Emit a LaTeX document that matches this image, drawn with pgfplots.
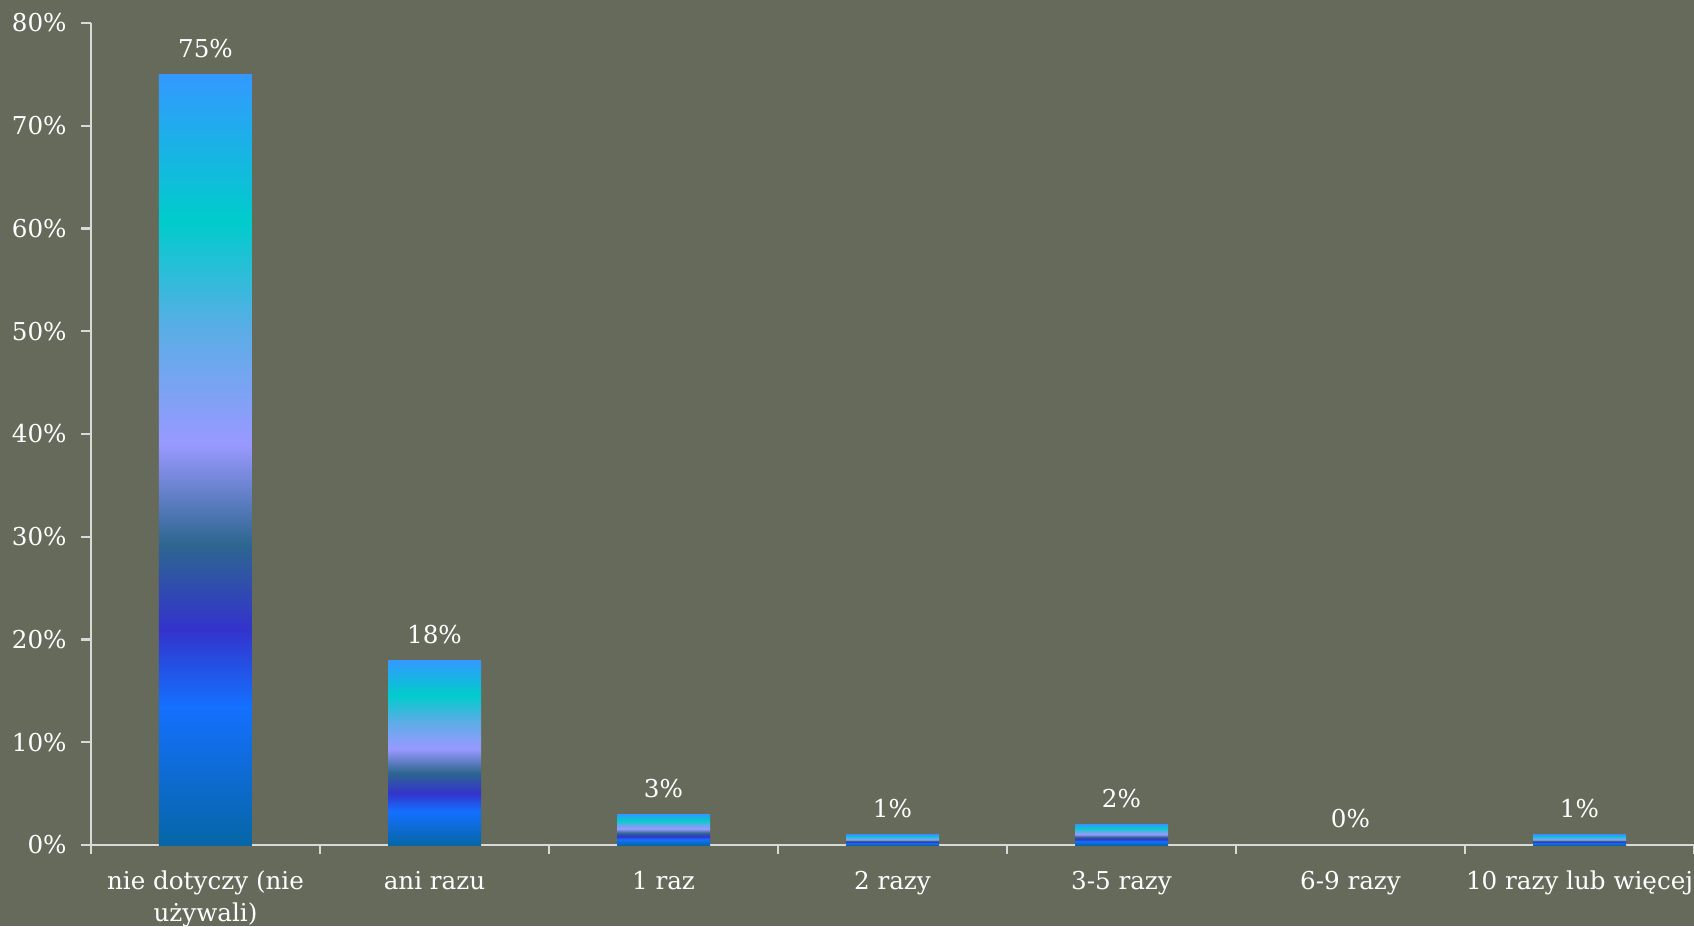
\documentclass[border=0pt]{standalone}
\usepackage{pgfplots}
\pgfplotsset{compat=1.18}
\usepackage{fontspec}
\setmainfont{DejaVu Serif}
\definecolor{bg}{HTML}{666A5B}
\definecolor{axcol}{HTML}{D9D9D9}
\definecolor{c0}{HTML}{0666A6}
\definecolor{c1}{HTML}{1470FF}
\definecolor{c2}{HTML}{3333CC}
\definecolor{c3}{HTML}{2D6690}
\definecolor{c4}{HTML}{9999FF}
\definecolor{c5}{HTML}{5AADE6}
\definecolor{c6}{HTML}{00CCCC}
\definecolor{c7}{HTML}{3399FF}
\pgfdeclareverticalshading{barshade}{100bp}{color(0bp)=(c0); color(25bp)=(c0); color(34bp)=(c1); color(39bp)=(c2); color(44.5bp)=(c3); color(51bp)=(c4); color(58.5bp)=(c5); color(65.5bp)=(c6); color(75bp)=(c7); color(100bp)=(c7)}
\begin{document}
\begin{tikzpicture}
\path[use as bounding box, fill=bg] (-0.91cm,-0.81cm) rectangle (16.03cm,8.45cm);
\begin{axis}[
  at={(0,0)}, anchor=south west,
  scale only axis, width=16.03cm, height=8.22cm,
  xmin=-0.5, xmax=6.5, ymin=0, ymax=80,
  axis x line=bottom, axis y line=left,
  axis line style={draw=axcol, line width=0.6pt, -},
  xtick={0,...,6},
  xticklabels={{nie dotyczy (nie\\używali)}, ani razu, 1 raz, 2 razy, 3-5 razy, 6-9 razy, 10 razy lub więcej},
  major x tick style={draw=none},
  minor xtick={-0.5,0.5,1.5,2.5,3.5,4.5,5.5,6.5},
  ytick={0,10,...,80},
  yticklabel={\pgfmathprintnumber{\tick}\%},
  tick align=outside,
  tick style={draw=axcol, line width=0.6pt},
  major tick length=0.1cm, minor tick length=0.09cm,
  tick label style={text=white, font=\fontsize{7}{9.2}\selectfont},
  /pgf/number format/assume math mode=true,
  xticklabel style={align=center, yshift=-0.035cm},
  yticklabel style={xshift=-0.02cm},
  clip=false,
  barstyle/.style={ybar, bar width=0.93cm, bar shift=0pt, draw=none, shading=barshade, forget plot},
]
\addplot[barstyle] coordinates {(0,75)};
\addplot[barstyle] coordinates {(1,18)};
\addplot[barstyle] coordinates {(2,3)};
\addplot[barstyle] coordinates {(3,1)};
\addplot[barstyle] coordinates {(4,2)};
\addplot[barstyle] coordinates {(6,1)};
\addplot[draw=none, nodes near coords={\pgfmathprintnumber{\pgfplotspointmeta}\%},
  every node near coord/.append style={text=white, font=\fontsize{7}{9.2}\selectfont, anchor=south, inner sep=0pt, yshift=0.16cm}]
  coordinates {(0,75) (1,18) (2,3) (3,1) (4,2) (5,0) (6,1)};
\end{axis}
\end{tikzpicture}
\end{document}
